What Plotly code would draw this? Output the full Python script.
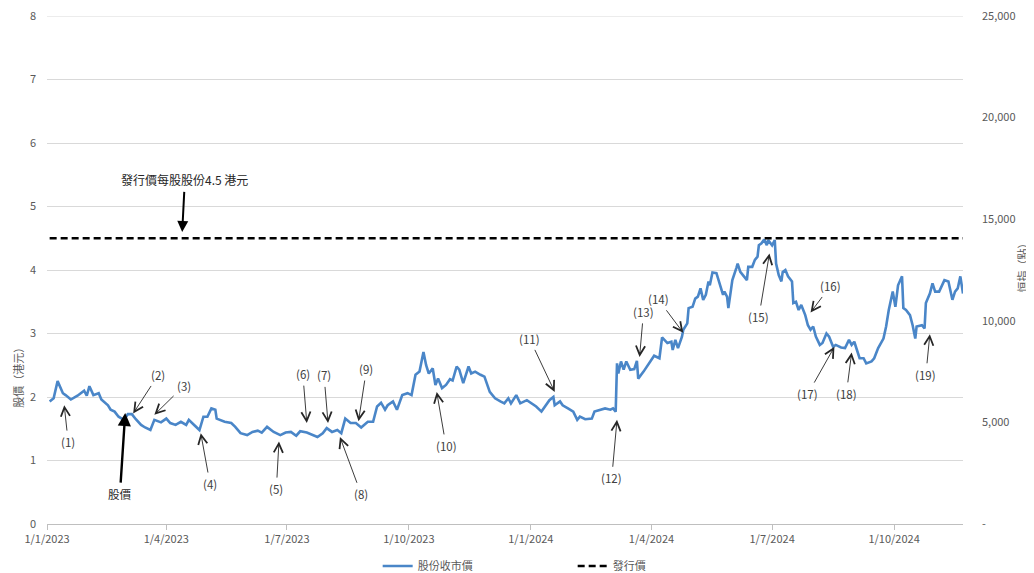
import plotly.graph_objects as go

FONT = "Noto Sans CJK TC, Noto Sans, sans-serif"

# ---- data ----
dates = [
    "2023-01-03","2023-01-06","2023-01-09","2023-01-11","2023-01-13","2023-01-15","2023-01-19","2023-01-24",
    "2023-01-29","2023-01-31","2023-02-02","2023-02-05","2023-02-09","2023-02-11","2023-02-16","2023-02-18",
    "2023-02-21","2023-02-24","2023-02-28","2023-03-03","2023-03-06","2023-03-09","2023-03-13","2023-03-16",
    "2023-03-20","2023-03-23","2023-03-28","2023-04-01","2023-04-04","2023-04-08","2023-04-12","2023-04-16",
    "2023-04-18","2023-04-22","2023-04-26","2023-04-29","2023-05-02","2023-05-05","2023-05-08","2023-05-09",
    "2023-05-15","2023-05-20","2023-05-23","2023-05-27","2023-06-01","2023-06-05","2023-06-09","2023-06-12",
    "2023-06-16","2023-06-21","2023-06-26","2023-06-30","2023-07-04","2023-07-08","2023-07-11","2023-07-16",
    "2023-07-20","2023-07-24","2023-07-28","2023-07-31","2023-08-04","2023-08-08","2023-08-11","2023-08-14",
    "2023-08-18","2023-08-22","2023-08-26","2023-08-31","2023-09-04","2023-09-07","2023-09-10","2023-09-13",
    "2023-09-15","2023-09-19","2023-09-22","2023-09-26","2023-09-30","2023-10-03","2023-10-06","2023-10-09",
    "2023-10-12","2023-10-14","2023-10-16","2023-10-19","2023-10-21","2023-10-23","2023-10-26","2023-10-29",
    "2023-11-01","2023-11-03","2023-11-06","2023-11-08","2023-11-11","2023-11-15","2023-11-17","2023-11-20",
    "2023-11-24","2023-11-27","2023-12-01","2023-12-05","2023-12-09","2023-12-12","2023-12-15","2023-12-17",
    "2023-12-21","2023-12-24","2023-12-29","2024-01-02","2024-01-05","2024-01-09","2024-01-12","2024-01-15",
    "2024-01-18","2024-01-19","2024-01-23","2024-01-25","2024-01-29","2024-02-02","2024-02-05","2024-02-07",
    "2024-02-11","2024-02-16","2024-02-18","2024-02-22","2024-02-26","2024-03-01","2024-03-03","2024-03-05",
    "2024-03-06","2024-03-07","2024-03-09","2024-03-11","2024-03-13","2024-03-16","2024-03-19","2024-03-21",
    "2024-03-22","2024-03-26","2024-03-29","2024-04-03","2024-04-07","2024-04-09","2024-04-13","2024-04-16",
    "2024-04-17","2024-04-19","2024-04-21","2024-04-24","2024-04-25","2024-04-28","2024-04-29","2024-05-02",
    "2024-05-04","2024-05-06","2024-05-08","2024-05-10","2024-05-12","2024-05-14","2024-05-15","2024-05-17",
    "2024-05-20","2024-05-23","2024-05-25","2024-05-26","2024-05-28","2024-05-29","2024-06-01","2024-06-04",
    "2024-06-05","2024-06-07","2024-06-09","2024-06-12","2024-06-13","2024-06-16","2024-06-18","2024-06-20",
    "2024-06-21","2024-06-23","2024-06-25","2024-06-27","2024-06-28","2024-07-01","2024-07-03","2024-07-04",
    "2024-07-06","2024-07-08","2024-07-09","2024-07-11","2024-07-13","2024-07-16","2024-07-17","2024-07-19",
    "2024-07-21","2024-07-23","2024-07-26","2024-07-28","2024-07-30","2024-08-01","2024-08-03","2024-08-06",
    "2024-08-08","2024-08-11","2024-08-13","2024-08-16","2024-08-18","2024-08-22","2024-08-25","2024-08-28",
    "2024-08-30","2024-09-01","2024-09-03","2024-09-05","2024-09-08","2024-09-10","2024-09-14","2024-09-16",
    "2024-09-19","2024-09-23","2024-09-25","2024-09-27","2024-09-30","2024-10-02","2024-10-04","2024-10-07",
    "2024-10-08","2024-10-10","2024-10-13","2024-10-15","2024-10-17","2024-10-18","2024-10-22","2024-10-24",
    "2024-10-25","2024-10-28","2024-10-30","2024-11-01","2024-11-04","2024-11-08","2024-11-11","2024-11-14",
    "2024-11-16","2024-11-18","2024-11-20","2024-11-22",
]
close_price = [
    1.93,1.98,2.25,2.16,2.06,2.03,1.96,2.02,
    2.10,2.02,2.17,2.03,2.06,1.96,1.87,1.80,
    1.77,1.69,1.64,1.73,1.73,1.65,1.56,1.52,
    1.48,1.64,1.60,1.66,1.59,1.56,1.61,1.56,
    1.64,1.56,1.48,1.69,1.69,1.82,1.80,1.66,
    1.61,1.59,1.53,1.43,1.40,1.45,1.47,1.44,
    1.53,1.45,1.40,1.44,1.45,1.39,1.46,1.44,
    1.41,1.37,1.43,1.51,1.45,1.48,1.43,1.66,
    1.59,1.59,1.52,1.61,1.61,1.85,1.91,1.80,
    1.87,1.93,1.80,2.03,2.06,2.03,2.35,2.40,
    2.71,2.50,2.37,2.45,2.19,2.29,2.14,2.19,
    2.28,2.26,2.48,2.43,2.22,2.48,2.37,2.40,
    2.35,2.32,2.08,1.98,1.93,1.90,1.98,1.90,
    2.03,1.90,1.95,1.90,1.85,1.77,1.87,1.95,
    2.00,1.87,1.93,1.87,1.82,1.77,1.64,1.69,
    1.65,1.66,1.77,1.80,1.82,1.80,1.82,1.77,
    2.53,2.37,2.56,2.43,2.56,2.43,2.44,2.57,
    2.29,2.40,2.50,2.65,2.61,2.94,2.85,2.87,
    2.74,2.90,2.77,2.95,3.06,3.16,3.40,3.42,
    3.55,3.58,3.71,3.53,3.61,3.82,3.76,3.96,
    3.95,3.76,3.61,3.66,3.58,3.40,3.84,4.03,
    4.10,3.97,3.92,3.84,4.05,4.05,4.16,4.21,
    4.39,4.42,4.48,4.39,4.47,4.39,4.47,4.10,
    3.92,3.82,3.97,4.00,3.90,3.82,3.48,3.50,
    3.37,3.45,3.29,3.13,3.06,3.11,2.95,2.82,
    2.85,3.00,2.95,2.79,2.82,2.78,2.77,2.90,
    2.82,2.87,2.74,2.61,2.61,2.53,2.56,2.61,
    2.77,2.92,3.11,3.37,3.66,3.42,3.76,3.90,
    3.40,3.37,3.29,3.13,2.92,3.11,3.13,3.08,
    3.48,3.63,3.79,3.66,3.66,3.84,3.82,3.53,
    3.66,3.71,3.90,3.63,
]
issue_dates = ["2023-01-03", "2024-11-22"]
issue_price = [4.5, 4.5]

x_range = ["2023-01-01", "2024-11-22"]
x_tickvals = ["2023-01-01","2023-04-01","2023-07-01","2023-10-01",
              "2024-01-01","2024-04-01","2024-07-01","2024-10-01"]
y_max = 8
y_tickvals = [0, 1, 2, 3, 4, 5, 6, 7, 8]
hsi_max = 25000
hsi_tickvals = [0, 5000, 10000, 15000, 20000, 25000]
hsi_ticktext = ["-", "5,000", "10,000", "15,000", "20,000", "25,000"]

# numbered event annotations: arrow head and label position
ann_labels = ["(1)","(2)","(3)","(4)","(5)","(6)","(7)","(8)","(9)","(10)",
              "(11)","(12)","(13)","(14)","(15)","(16)","(17)","(18)","(19)"]
ann_head_dates = ["2023-01-14","2023-03-07","2023-03-23","2023-04-27","2023-06-25","2023-07-16",
                  "2023-08-01","2023-08-10","2023-08-24","2023-10-22","2024-01-19","2024-03-06",
                  "2024-03-23","2024-04-25","2024-06-29","2024-07-30","2024-08-17","2024-08-30",
                  "2024-10-28"]
ann_head_vals = [1.87,1.74,1.72,1.43,1.30,1.59,1.59,1.37,1.62,2.08,2.08,1.64,
                 2.63,3.01,4.26,3.33,2.79,2.70,2.99]
ann_text_dates = ["2023-01-17","2023-03-26","2023-04-14","2023-05-04","2023-06-23","2023-07-13",
                  "2023-07-29","2023-08-26","2023-08-30","2023-10-29","2023-12-31","2024-03-02",
                  "2024-03-26","2024-04-06","2024-06-21","2024-08-14","2024-07-28","2024-08-26",
                  "2024-10-25"]
ann_text_vals = [1.29,2.35,2.17,0.63,0.55,2.36,2.34,0.47,2.44,1.23,2.92,0.72,
                 3.34,3.54,3.26,3.75,2.05,2.05,2.35]

fig = go.Figure()
fig.add_trace(go.Scatter(
    x=dates, y=close_price, mode="lines", name="股份收市價",
    line=dict(color="#4A86C8", width=2.6),
))
fig.add_trace(go.Scatter(
    x=issue_dates, y=issue_price, mode="lines", name="發行價",
    line=dict(color="#000000", width=2.4, dash="7px,4px"),
))
# invisible trace to anchor the HSI axis
fig.add_trace(go.Scatter(
    x=[x_range[0]], y=[0], yaxis="y2", mode="lines", showlegend=False,
    hoverinfo="skip", line=dict(width=0),
))

annotations = []
for lab, hd, hv, td, tv in zip(ann_labels, ann_head_dates, ann_head_vals, ann_text_dates, ann_text_vals):
    annotations.append(dict(
        x=hd, y=hv, xref="x", yref="y", ax=td, ay=tv, axref="x", ayref="y",
        text=lab, showarrow=True, arrowhead=5, arrowsize=2.0, arrowwidth=0.9,
        arrowcolor="#262626", standoff=0, startstandoff=2,
        font=dict(family=FONT, size=11.5, color="#404040"),
    ))
# bold arrows
annotations.append(dict(
    x="2023-03-01", y=1.75, xref="x", yref="y", ax="2023-02-25", ay=0.47, axref="x", ayref="y",
    text="股價", showarrow=True, arrowhead=2, arrowsize=1.1, arrowwidth=2.4,
    arrowcolor="#000000", startstandoff=2,
    font=dict(family=FONT, size=11.5, color="#262626"),
))
annotations.append(dict(
    x="2023-04-13", y=4.60, xref="x", yref="y", ax="2023-04-15", ay=5.42, axref="x", ayref="y",
    text="發行價每股股份4.5 港元", showarrow=True, arrowhead=2, arrowsize=1.1, arrowwidth=2.0,
    arrowcolor="#000000", startstandoff=2,
    font=dict(family=FONT, size=12, color="#262626"),
))
# axis titles
annotations.append(dict(
    x=-0.031, y=0.293, xref="paper", yref="paper", xanchor="center", yanchor="middle",
    text="股價（港元）", textangle=-90,
    showarrow=False, font=dict(family=FONT, size=11, color="#595959"),
))
annotations.append(dict(
    x=1.064, y=0.51, xref="paper", yref="paper", xanchor="center", yanchor="middle",
    text="恒指（點）", textangle=-90,
    showarrow=False, font=dict(family=FONT, size=11, color="#595959"),
))

# the page body adds an 8px offset, so the figure is 8px smaller on each leading side
fig.update_layout(
    width=1026, height=565,
    margin=dict(l=39, r=71, t=8, b=49, autoexpand=False),
    paper_bgcolor="white", plot_bgcolor="white",
    font=dict(family=FONT, size=11, color="#595959"),
    showlegend=True,
    legend=dict(orientation="h", x=0.361, xanchor="left", y=0.0124, yanchor="middle",
                yref="container",
                font=dict(family=FONT, size=11, color="#595959"),
                entrywidth=150, entrywidthmode="pixels", bgcolor="rgba(0,0,0,0)"),
    xaxis=dict(
        type="date", range=x_range, tickvals=x_tickvals, tickformat="%-d/%-m/%Y",
        showgrid=False, showline=True, linecolor="#BFBFBF", linewidth=1,
        ticks="outside", ticklen=5, tickcolor="#BFBFBF", automargin=False,
        tickfont=dict(family=FONT, size=11, color="#595959"), zeroline=False,
    ),
    yaxis=dict(
        range=[0, y_max], tickvals=y_tickvals, showgrid=True, gridcolor="#D9D9D9",
        gridwidth=1, zeroline=False, showline=False, ticks="", ticklabelstandoff=10,
        automargin=False, ticklabeloverflow="allow",
        tickfont=dict(family=FONT, size=11, color="#595959"),
    ),
    yaxis2=dict(
        overlaying="y", side="right", range=[0, hsi_max], tickvals=hsi_tickvals,
        ticktext=hsi_ticktext, showgrid=False, zeroline=False, showline=False,
        ticks="", ticklabelstandoff=18, automargin=False, ticklabeloverflow="allow",
        tickfont=dict(family=FONT, size=11, color="#595959"),
    ),
    # top gridline (plotly skips gridlines lying on the plot edge)
    shapes=[dict(type="line", xref="paper", x0=0, x1=1, yref="y", y0=y_max, y1=y_max,
                 line=dict(color="#D9D9D9", width=1), layer="below")],
    annotations=annotations,
)

fig.write_html("out.html")
